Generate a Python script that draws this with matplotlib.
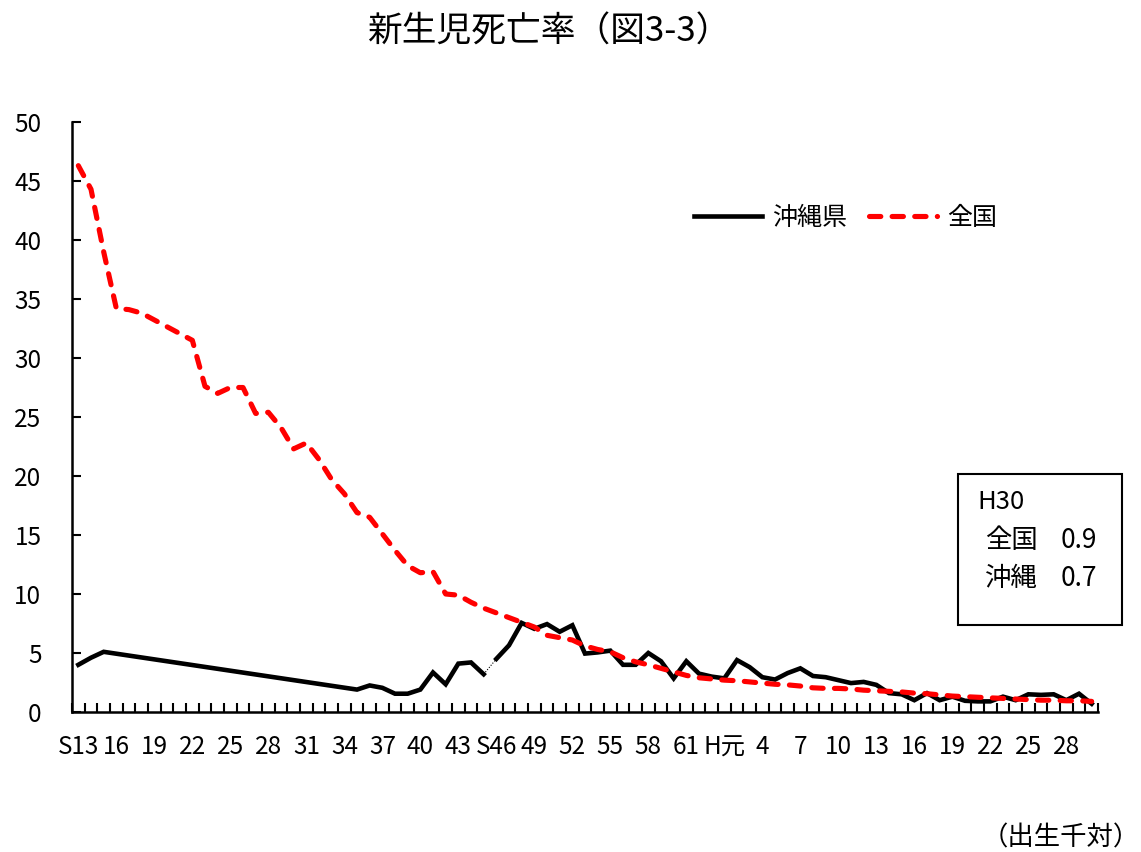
import matplotlib
matplotlib.use('Agg')
import matplotlib.pyplot as plt
from matplotlib.patches import Rectangle

plt.rcParams['font.family'] = ['Noto Sans CJK JP', 'DejaVu Sans']

# Years S13 (1938) .. H30 (2018); one category per year.
years = list(range(1938, 2019))

# 全国 neonatal mortality (per 1000 births).
national = [
    46.3, 44.3, 39.0, 34.2, 34.1, 33.8, None, None, None, 31.5,   # 1938-1947
    27.6, 27.0, 27.5, 27.5, 25.3, 25.4, 24.1, 22.3, 22.8, 21.4,   # 1948-1957
    19.7, 18.5, 16.9, 16.5, 15.1, 13.7, 12.4, 11.8, 11.9, 10.0,   # 1958-1967
    9.9, 9.3, 8.8, 8.4, 8.0, 7.6, 7.2, 6.5, 6.3, 6.1,             # 1968-1977
    5.6, 5.3, 5.1, 4.6, 4.25, 4.0, 3.7, 3.4, 3.1, 2.9,            # 1978-1987
    2.8, 2.7, 2.65, 2.55, 2.45, 2.35, 2.3, 2.2, 2.05, 2.0,        # 1988-1997
    2.0, 1.95, 1.85, 1.8, 1.75, 1.7, 1.6, 1.55, 1.45, 1.35,       # 1998-2007
    1.3, 1.25, 1.2, 1.15, 1.1, 1.05, 1.0, 1.0, 0.95, 0.95,        # 2008-2017
    0.9,                                                          # 2018
]

# 沖縄県
okinawa = [
    4.0, 4.6, 5.1, None, None, None, None, None, None, None,      # 1938-1947
    None, None, None, None, None, None, None, None, None, None,   # 1948-1957
    None, None, 1.9, 2.25, 2.05, 1.55, 1.55, 1.9, 3.35, 2.35,     # 1958-1967
    4.1, 4.2, 3.2, 4.5, 5.65, 7.55, 7.05, 7.45, 6.8, 7.35,        # 1968-1977
    4.95, 5.05, 5.2, 4.0, 4.0, 5.0, 4.3, 2.85, 4.3, 3.25,         # 1978-1987
    3.0, 2.85, 4.4, 3.8, 2.95, 2.75, 3.3, 3.7, 3.05, 2.95,        # 1988-1997
    2.7, 2.45, 2.55, 2.3, 1.6, 1.5, 1.0, 1.6, 1.0, 1.3,           # 1998-2007
    0.95, 0.9, 0.9, 1.3, 1.0, 1.5, 1.45, 1.5, 1.0, 1.55,          # 2008-2017
    0.7,                                                          # 2018
]

tick_labels = ['S13', '16', '19', '22', '25', '28', '31', '34', '37', '40',
               '43', 'S46', '49', '52', '55', '58', '61', 'H元', '4', '7',
               '10', '13', '16', '19', '22', '25', '28']

split_year = 1971   # Okinawa line drawn thin between 1970 and 1971


def valid(xs, ys):
    pts = [(x, y) for x, y in zip(xs, ys) if y is not None]
    return [p[0] for p in pts], [p[1] for p in pts]


idx = list(range(len(years)))
s = years.index(split_year)

fig = plt.figure(figsize=(11.41, 8.52), dpi=100)
ax = fig.add_axes([72 / 1141, 1 - 712 / 852, 1026 / 1141, 590 / 852])

# Okinawa: two thick parts joined by a thin dotted segment
x1, y1 = valid(idx[:s], okinawa[:s])
x2, y2 = valid(idx[s:], okinawa[s:])
line_ok, = ax.plot(x1, y1, color='black', lw=3.3, solid_joinstyle='miter',
                   zorder=2)
ax.plot(x2, y2, color='black', lw=3.3, solid_joinstyle='miter', zorder=2)
ax.plot([idx[s - 1], idx[s]], [okinawa[s - 1], okinawa[s]], color='black',
        lw=0.8, ls=(0, (1, 1.5)), zorder=2)

xn, yn = valid(idx, national)
line_nat, = ax.plot(xn, yn, color='#ff0000', lw=3.7, dashes=(2.2, 2.2),
                    dash_capstyle='round', zorder=3)

# Axes formatting
ax.set_xlim(-0.5, len(years) - 0.5)
ax.set_ylim(0, 50)
ax.set_yticks(range(0, 51, 5))
ax.set_xticks(idx[::3])
ax.set_xticklabels(tick_labels)
ax.set_xticks([i - 0.5 for i in range(len(years) + 1)], minor=True)
ax.tick_params(axis='x', which='major', length=0, pad=16, labelsize=17.5)
ax.tick_params(axis='x', which='minor', direction='in', length=6.5,
               width=1.5)
ax.tick_params(axis='y', which='major', direction='in', length=6.5,
               width=1.5, pad=22, labelsize=17.5)
for side in ('top', 'right'):
    ax.spines[side].set_visible(False)
for side in ('left', 'bottom'):
    ax.spines[side].set_linewidth(1.8)

ax.legend([line_ok, line_nat], ['沖縄県', '全国'], ncol=2, frameon=False,
          loc='center', bbox_to_anchor=(0.754, 0.837), fontsize=18,
          handlelength=2.7, handletextpad=0.4, columnspacing=0.9)

# Title and note
fig.text(549 / 1141, 1 - 32 / 852, '新生児死亡率（図3-3）', fontsize=25,
         ha='center', va='center')
fig.text(1140 / 1141, 1 - 838 / 852, '（出生千対）', fontsize=19,
         ha='right', va='center')

# H30 box
fig.patches.append(Rectangle((958 / 1141, 1 - 625 / 852), 164 / 1141,
                             151 / 852, transform=fig.transFigure,
                             fill=False, edgecolor='black', lw=1.5))
fig.text(977 / 1141, 1 - 502 / 852, 'H30', fontsize=18.5, va='center')
fig.text(985 / 1141, 1 - 540 / 852, '全国', fontsize=19, va='center')
fig.text(1061 / 1141, 1 - 540 / 852, '0.9', fontsize=19, va='center')
fig.text(985 / 1141, 1 - 578 / 852, '沖縄', fontsize=19, va='center')
fig.text(1061 / 1141, 1 - 578 / 852, '0.7', fontsize=19, va='center')

fig.savefig('out.png', dpi=100)
